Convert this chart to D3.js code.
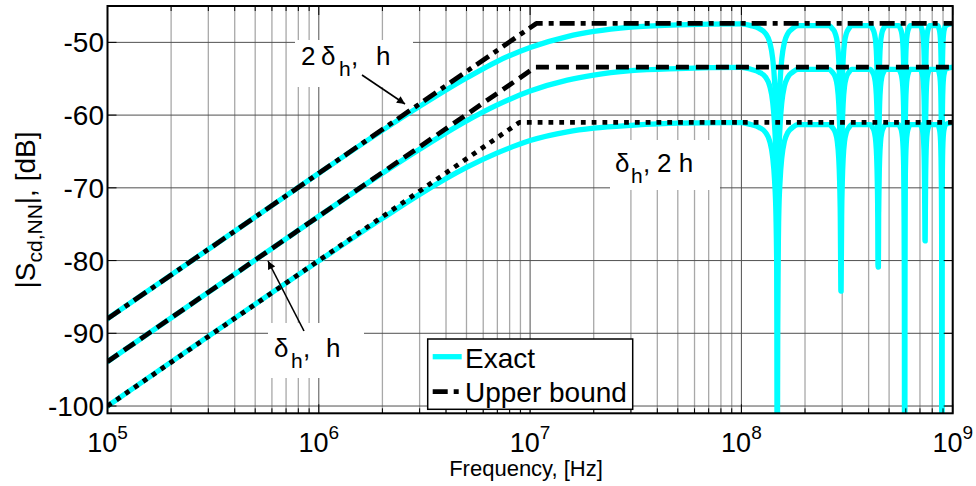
<!DOCTYPE html>
<html>
<head>
<meta charset="utf-8">
<script src="https://cdn.jsdelivr.net/npm/d3@7/dist/d3.min.js"></script>
<style>
  body { margin: 0; background: #fff; }
  svg { display: block; }
  text { font-family: "Liberation Sans", Arial, sans-serif; fill: #000; }
</style>
</head>
<body>
<div id="chart"></div>
<script>
// frequencies where the smooth part of the curves was read (Hz)
const freqs = [1e5, 1e6, 2e6, 3e6, 5e6, 7e6, 1e7, 1.5e7, 2e7, 3e7, 5e7, 1e8, 1e9];
// exact response (dB)
const exactTop = [-88.0, -68.0, -62.1, -58.8, -54.9, -52.6, -50.7, -49.2, -48.5, -47.9, -47.6, -47.46, -47.4];
const exactMid = [-93.9, -73.9, -68.0, -64.7, -60.8, -58.6, -56.7, -55.2, -54.5, -53.9, -53.6, -53.44, -53.4];
const exactLow = [-100.0, -80.05, -74.2, -70.9, -67.2, -65.2, -63.5, -62.3, -61.8, -61.4, -61.1, -61.04, -61.0];

// upper bounds: [freq, dB] corner points
const boundTop = [[1e5, -88.0], [1.07e7, -47.4], [1e9, -47.4]];
const boundMid = [[1e5, -93.9], [1.06e7, -53.4], [1e9, -53.4]];
const boundLow = [[1e5, -100.0], [8.9e6, -61.0], [1e9, -61.0]];

// notches at high frequency
const notchFreqs = [1.48e8, 2.96e8, 4.44e8, 5.92e8, 7.40e8, 8.88e8];
const notchDepth = [60, 23.2, 19.9, 60, 16.3, 60];
const notchSpacing = 1.48e8;
// notch shape: offset from centre (in units of notchSpacing) and drop below flat level (dB)
const notchOffsets = [0.25, 0.18, 0.12, 0.08, 0.05, 0.03, 0.015, 0.007, 0.003, 0.001, 0];
const notchDrops = [0.3, 0.7, 1.4, 2.6, 4.8, 8, 13, 20, 27, 37, 60];

const yTicks = [-100, -90, -80, -70, -60, -50];
const xDecades = [5, 6, 7, 8, 9];

const W = 976, H = 486;
const pL = 107.5, pR = 952.7, pT = 6, pB = 413.3;

const svg = d3.select("#chart").append("svg")
  .attr("width", W).attr("height", H);

svg.append("rect").attr("width", W).attr("height", H).attr("fill", "#fff");

const x = d3.scaleLog().domain([1e5, 1e9]).range([pL, pR]);
const y = d3.scaleLinear().domain([-101, -45]).range([pB, pT]);

// grid
const minorX = [];
xDecades.slice(0, -1).forEach(e => {
  for (let m = 2; m <= 9; m++) minorX.push(m * Math.pow(10, e));
});
const majorX = xDecades.map(e => Math.pow(10, e));
const grid = svg.append("g");
grid.selectAll(".gxm").data(minorX).enter().append("line")
  .attr("x1", d => x(d)).attr("x2", d => x(d))
  .attr("y1", pT).attr("y2", pB)
  .attr("stroke", "#a8a8a8").attr("stroke-width", 1.3);
grid.selectAll(".gxM").data(majorX).enter().append("line")
  .attr("x1", d => x(d)).attr("x2", d => x(d))
  .attr("y1", pT).attr("y2", pB)
  .attr("stroke", "#505050").attr("stroke-width", 1);
grid.selectAll(".gy").data(yTicks).enter().append("line")
  .attr("x1", pL).attr("x2", pR)
  .attr("y1", d => y(d)).attr("y2", d => y(d))
  .attr("stroke", "#505050").attr("stroke-width", 1);

// text label boxes (hide the grid behind them)
const boxes = [[295, 40, 118, 47], [268, 323, 96, 55], [610, 140, 110, 50]];
svg.selectAll(".lbox").data(boxes).enter().append("rect")
  .attr("x", d => d[0]).attr("y", d => d[1])
  .attr("width", d => d[2]).attr("height", d => d[3])
  .attr("fill", "#fff");

// curves
svg.append("clipPath").attr("id", "clip").append("rect")
  .attr("x", pL).attr("y", pT).attr("width", pR - pL).attr("height", pB - pT);

function exactSeries(levels) {
  const flat = levels[levels.length - 1];
  const pts = freqs.slice(0, -1).map((f, i) => [f, levels[i]]);
  notchFreqs.forEach((fn, k) => {
    notchOffsets.forEach((o, j) => {
      const v = flat - Math.min(notchDrops[j], notchDepth[k]);
      pts.push([fn - o * notchSpacing, v]);
      if (o > 0) pts.push([fn + o * notchSpacing, v]);
    });
  });
  pts.push([1e9, flat]);
  return pts.sort((a, b) => a[0] - b[0]);
}

const smooth = d3.line().x(d => x(d[0])).y(d => y(d[1])).curve(d3.curveMonotoneX);
const straight = d3.line().x(d => x(d[0])).y(d => y(d[1]));

const plot = svg.append("g").attr("clip-path", "url(#clip)");

[exactTop, exactMid, exactLow].forEach(levels => {
  plot.append("path")
    .datum(exactSeries(levels))
    .attr("fill", "none")
    .attr("stroke", "#00ffff")
    .attr("stroke-width", 5.3)
    .attr("stroke-linejoin", "round")
    .attr("stroke-linecap", "round")
    .attr("d", smooth);
});

const bounds = [
  { data: boundTop, dash: "15,6,5,6" },
  { data: boundMid, dash: "13,7" },
  { data: boundLow, dash: "4.8,6" }
];
bounds.forEach(b => {
  plot.append("path")
    .datum(b.data)
    .attr("fill", "none")
    .attr("stroke", "#000")
    .attr("stroke-width", 4.8)
    .attr("stroke-linejoin", "round")
    .attr("stroke-dasharray", b.dash)
    .attr("d", straight);
});

// ticks (inside, all four sides)
const ticks = svg.append("g").attr("stroke", "#000").attr("stroke-width", 1);
[[majorX, 9], [minorX, 5]].forEach(([vals, len]) => {
  vals.forEach(v => {
    ticks.append("line").attr("x1", x(v)).attr("x2", x(v)).attr("y1", pB).attr("y2", pB - len);
    ticks.append("line").attr("x1", x(v)).attr("x2", x(v)).attr("y1", pT).attr("y2", pT + len);
  });
});
yTicks.forEach(v => {
  ticks.append("line").attr("x1", pL).attr("x2", pL + 9).attr("y1", y(v)).attr("y2", y(v));
  ticks.append("line").attr("x1", pR).attr("x2", pR - 9).attr("y1", y(v)).attr("y2", y(v));
});

svg.append("rect")
  .attr("x", pL).attr("y", pT).attr("width", pR - pL).attr("height", pB - pT)
  .attr("fill", "none").attr("stroke", "#000").attr("stroke-width", 2);

// tick labels
svg.selectAll(".yl").data(yTicks).enter().append("text")
  .attr("x", 104).attr("y", d => y(d) + 10)
  .attr("text-anchor", "end")
  .style("font-size", "28px")
  .text(d => d);

const xl = svg.selectAll(".xl").data(xDecades).enter().append("text")
  .attr("x", d => x(Math.pow(10, d)))
  .attr("y", 452)
  .attr("text-anchor", "middle")
  .style("font-size", "27px");
xl.append("tspan").text("10");
xl.append("tspan").attr("dy", -13).style("font-size", "19px").text(d => d);

// axis titles
svg.append("text")
  .attr("x", 526).attr("y", 476)
  .attr("text-anchor", "middle")
  .style("font-size", "22px")
  .text("Frequency, [Hz]");

const yt = svg.append("text")
  .attr("transform", "translate(35,210) rotate(-90)")
  .attr("text-anchor", "middle")
  .style("font-size", "28px");
yt.append("tspan").text("|S");
yt.append("tspan").attr("dy", 7).style("font-size", "21px").text("cd,NN");
yt.append("tspan").attr("dy", -7).text("|, [dB]");

// annotations
function label(base, parts) {
  const t = svg.append("text").attr("y", base).style("font-size", "26px");
  parts.forEach(p => {
    const s = t.append("tspan").attr("x", p.x).attr("y", base + (p.sub ? 11 : 0)).text(p.t);
    if (p.sub) s.style("font-size", "21px");
  });
}
label(65, [
  { x: 301, t: "2" }, { x: 321, t: "δ" }, { x: 339, t: "h", sub: true },
  { x: 351, t: "," }, { x: 376, t: "h" }
]);
label(356.5, [
  { x: 274, t: "δ" }, { x: 291, t: "h", sub: true },
  { x: 303, t: "," }, { x: 326, t: "h" }
]);
label(171.5, [
  { x: 615, t: "δ" }, { x: 631, t: "h", sub: true },
  { x: 643, t: "," }, { x: 657, t: "2 h" }
]);

svg.append("defs").append("marker")
  .attr("id", "arr").attr("viewBox", "0 0 10 10")
  .attr("refX", 10).attr("refY", 5)
  .attr("markerWidth", 10).attr("markerHeight", 8)
  .attr("markerUnits", "userSpaceOnUse")
  .attr("orient", "auto")
  .append("path").attr("d", "M0,0 L10,5 L0,10 Z").attr("fill", "#000");

const arrows = [[362, 75, 405, 104], [304, 331, 268, 261]];
svg.selectAll(".arrow").data(arrows).enter().append("line")
  .attr("x1", d => d[0]).attr("y1", d => d[1])
  .attr("x2", d => d[2]).attr("y2", d => d[3])
  .attr("stroke", "#000").attr("stroke-width", 1.6)
  .attr("marker-end", "url(#arr)");

// legend
const lg = svg.append("g");
lg.append("rect").attr("x", 427.7).attr("y", 339).attr("width", 205).attr("height", 70.3)
  .attr("fill", "#fff").attr("stroke", "#000").attr("stroke-width", 1.5);
lg.append("line").attr("x1", 432.7).attr("x2", 461.7).attr("y1", 356.7).attr("y2", 356.7)
  .attr("stroke", "#00ffff").attr("stroke-width", 5.3);
lg.append("line").attr("x1", 432.7).attr("x2", 461.7).attr("y1", 391.7).attr("y2", 391.7)
  .attr("stroke", "#000").attr("stroke-width", 4.8).attr("stroke-dasharray", "15,6,5,6");
lg.append("text").attr("x", 465).attr("y", 367.5).style("font-size", "28px").text("Exact");
lg.append("text").attr("x", 465).attr("y", 401.5).style("font-size", "28px").text("Upper bound");
</script>
</body>
</html>
